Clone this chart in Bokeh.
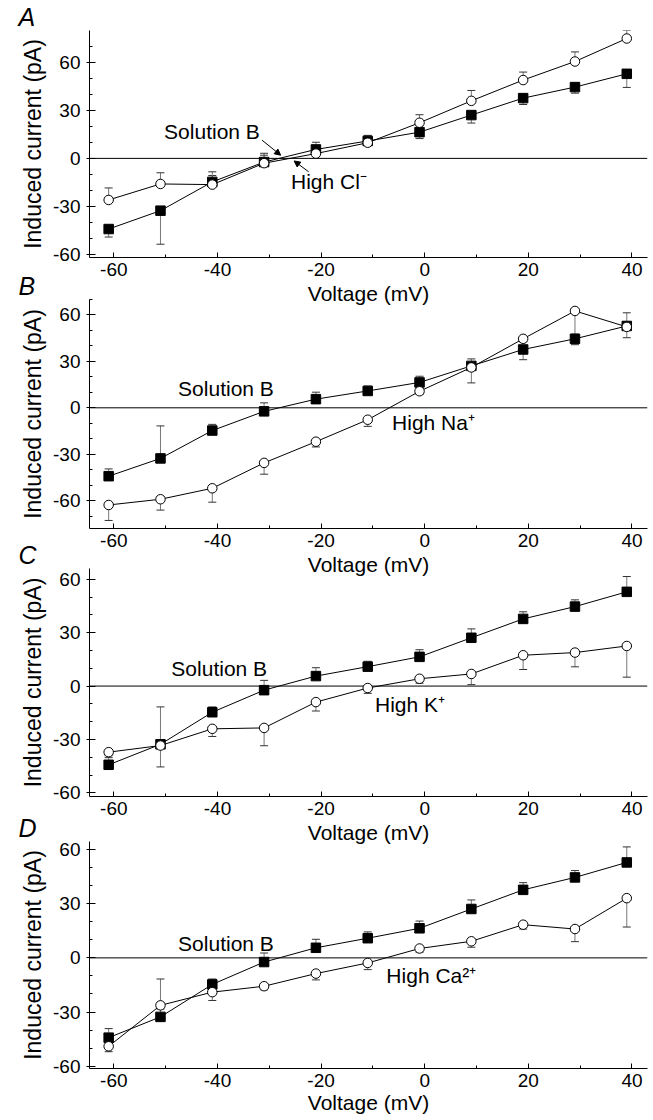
from bokeh.plotting import figure
from bokeh.models import Range1d, FixedTicker, Span, Label, Arrow, NormalHead
from bokeh.layouts import column
from bokeh.embed import file_html
from bokeh.resources import INLINE

# ---------------- data ----------------
voltage = [-61, -51, -41, -31, -21, -11, -1, 9, 19, 29, 39]

solution_b = [-44.2, -32.7, -14.7, -2.3, 5.6, 10.9, 16.4, 27.1, 37.7, 44.6, 52.9]
# signed error bars (positive = drawn upward, negative = drawn downward)
solution_b_err_a = [-5, -21, 4, 5.5, 4.5, 3.2, -4, -5, -4, -3.8, -8.5]
solution_b_err_b = [4.7, 21, 4, 5.5, 4.5, 3.2, 4, 4.5, -6.6, -3.8, 8.5]
solution_b_err_c = [4, 21, 3, 5.5, 4.7, 3, 4, 5, 4, 3.8, 8.6]
solution_b_err_d = [5, 21, 3, 5, 4.7, 3.5, 4, 5, 4, 3.8, 8.6]

high_cl = [-26.0, -16.0, -16.4, -3.0, 3.0, 9.8, 22.3, 36.0, 49.0, 60.6, 75.0]
high_cl_err = [7.5, 7, 8, 5, 2, 4.6, 5, 6.5, 5, 6, 5]

high_na = [-62.8, -59.1, -52.0, -35.6, -21.9, -7.7, 10.7, 26.1, 44.6, 62.6, 52.3]
high_na_err = [-10, -7, -9, -7.3, -3.4, -4.3, -2, -10, -2, -15, -7]

high_k = [-37.1, -33.4, -24.0, -23.5, -9.0, -1.1, 4.1, 6.8, 17.3, 18.8, 22.5]
high_k_err = [-2, -12, -4.3, -10, -5, -3, -2.5, -6, -8, -8, -17.5]

high_ca = [-49.0, -26.3, -19.0, -15.7, -8.7, -2.8, 5.2, 9.2, 18.4, 16.0, 33.1]
high_ca_err = [-3, -2, -4.6, -2, -3.5, -3.7, -2, -3.3, -2.4, -7, -16]

x_major = [-60, -40, -20, 0, 20, 40]
x_minor = [-50, -30, -10, 10, 30]
y_major = [-60, -30, 0, 30, 60]
y_minor = [-70, -50, -40, -20, -10, 10, 20, 40, 50, 70]

panel_letters = ["A", "B", "C", "D"]
ion_names = ["High Cl\u207b", "High Na\u207a", "High K\u207a", "High Ca\u00b2\u207a"]
ref_name = "Solution B"
x_title = "Voltage (mV)"
y_title = "Induced current (pA)"

FONT = "Liberation Sans"


def err_bars(p, xs, ys, errs, color):
    x0, y0, y1 = [], [], []
    for x, y, e in zip(xs, ys, errs):
        x0.append(x)
        y0.append(y)
        y1.append(y + e)
    p.segment(x0=x0, y0=y0, x1=x0, y1=y1, line_color=color, line_width=1)
    p.scatter(x0, y1, marker="dash", size=8, line_color="#333333", line_width=1)


def make_panel(letter, ion, ion_err, sb_err, ion_name, yr, height, top, bottom,
               margin_top, sb_pos, ion_pos, last=False, arrows=None):
    p = figure(width=651, height=height, title=letter,
               x_range=Range1d(-64.7, 43), y_range=Range1d(*yr),
               output_backend="svg", toolbar_location=None,
               min_border_left=89, min_border_right=4,
               min_border_top=top, min_border_bottom=bottom,
               background_fill_alpha=0, border_fill_alpha=0,
               outline_line_color=None)
    p.margin = (margin_top, 0, 0, 0)
    p.grid.visible = False

    # panel letter
    p.title.text_font = FONT
    p.title.text_font_size = "25px"
    p.title.text_font_style = "italic"
    p.title.text_color = "black"
    p.title.align = "left"
    p.title.offset = -71
    p.title.standoff = 0

    # axes
    p.xaxis.ticker = FixedTicker(ticks=x_major, minor_ticks=x_minor)
    p.yaxis.ticker = FixedTicker(ticks=y_major, minor_ticks=y_minor)
    p.xaxis.major_label_overrides = {t: str(t) for t in x_major}
    p.yaxis.major_label_overrides = {t: str(t) for t in y_major}
    for ax in (p.xaxis[0], p.yaxis[0]):
        ax.axis_line_color = "black"
        ax.major_tick_line_color = "black"
        ax.minor_tick_line_color = "black"
        ax.major_label_text_font = FONT
        ax.major_label_text_font_size = "19px"
        ax.major_label_text_color = "black"
        ax.axis_label_text_font = FONT
        ax.axis_label_text_font_style = "normal"
        ax.axis_label_text_color = "black"
    p.xaxis.major_tick_in = 5
    p.xaxis.major_tick_out = 0
    p.xaxis.minor_tick_in = 3
    p.xaxis.minor_tick_out = 0
    p.xaxis.major_label_standoff = 5
    p.yaxis.major_tick_in = 6
    p.yaxis.major_tick_out = 3
    p.yaxis.minor_tick_in = 3
    p.yaxis.minor_tick_out = 0
    p.yaxis.major_label_standoff = 6
    p.yaxis.axis_label = y_title
    p.yaxis.axis_label_text_font_size = "23px"
    p.yaxis.axis_label_standoff = 4
    p.xaxis.axis_label = x_title
    p.xaxis.axis_label_text_font_size = "21px"
    p.xaxis.axis_label_standoff = 3 if not last else 1

    # zero line
    p.add_layout(Span(location=0, dimension="width", line_color="black",
                      line_width=1, level="underlay"))

    # error bars
    err_bars(p, voltage, solution_b, sb_err, "#777777")
    err_bars(p, voltage, ion, ion_err, "#777777")

    # lines
    p.line(voltage, solution_b, line_color="black", line_width=1)
    p.line(voltage, ion, line_color="black", line_width=1)

    # markers
    p.scatter(voltage, solution_b, marker="square", size=9.5,
              fill_color="black", line_color="black")
    p.scatter(voltage, ion, marker="circle", size=9.5,
              fill_color="white", line_color="black", line_width=1)

    # annotations
    p.add_layout(Label(x=sb_pos[0], y=sb_pos[1], text=ref_name, text_font=FONT,
                       text_font_size="21px", text_color="black",
                       text_baseline="middle"))
    p.add_layout(Label(x=ion_pos[0], y=ion_pos[1], text=ion_name, text_font=FONT,
                       text_font_size="21px", text_color="black",
                       text_baseline="middle"))
    if arrows:
        for (xs, ys, xe, ye) in arrows:
            p.add_layout(Arrow(end=NormalHead(size=6, fill_color="black",
                                              line_color="black"),
                               x_start=xs, y_start=ys, x_end=xe, y_end=ye,
                               line_color="black", line_width=1))
    return p


pA = make_panel(panel_letters[0], high_cl, high_cl_err, solution_b_err_a, ion_names[0],
                (-62, 80), 312, 29, 55, 0,
                (-50.3, 16.7), (-25.8, -14.7),
                arrows=[(-31.4, 11.4, -27.8, 2.0), (-22.4, -8.4, -25.2, -1.6)])
pB = make_panel(panel_letters[1], high_na, high_na_err, solution_b_err_b, ion_names[1],
                (-78, 70), 316, 32, 55, -45,
                (-47.6, 12.7), (-6.3, -9.8))
pC = make_panel(panel_letters[2], high_k, high_k_err, solution_b_err_c, ion_names[2],
                (-62, 66), 315, 32, 55, -47,
                (-48.9, 10.0), (-9.6, -10.3))
pD = make_panel(panel_letters[3], high_ca, high_ca_err, solution_b_err_d, ion_names[3],
                (-61.3, 64.5), 311, 32, 52, -42,
                (-47.6, 8.2), (-7.4, -9.8), last=True)

layout = column(pA, pB, pC, pD, spacing=0)
open("out.html", "w").write(file_html(layout, INLINE))
